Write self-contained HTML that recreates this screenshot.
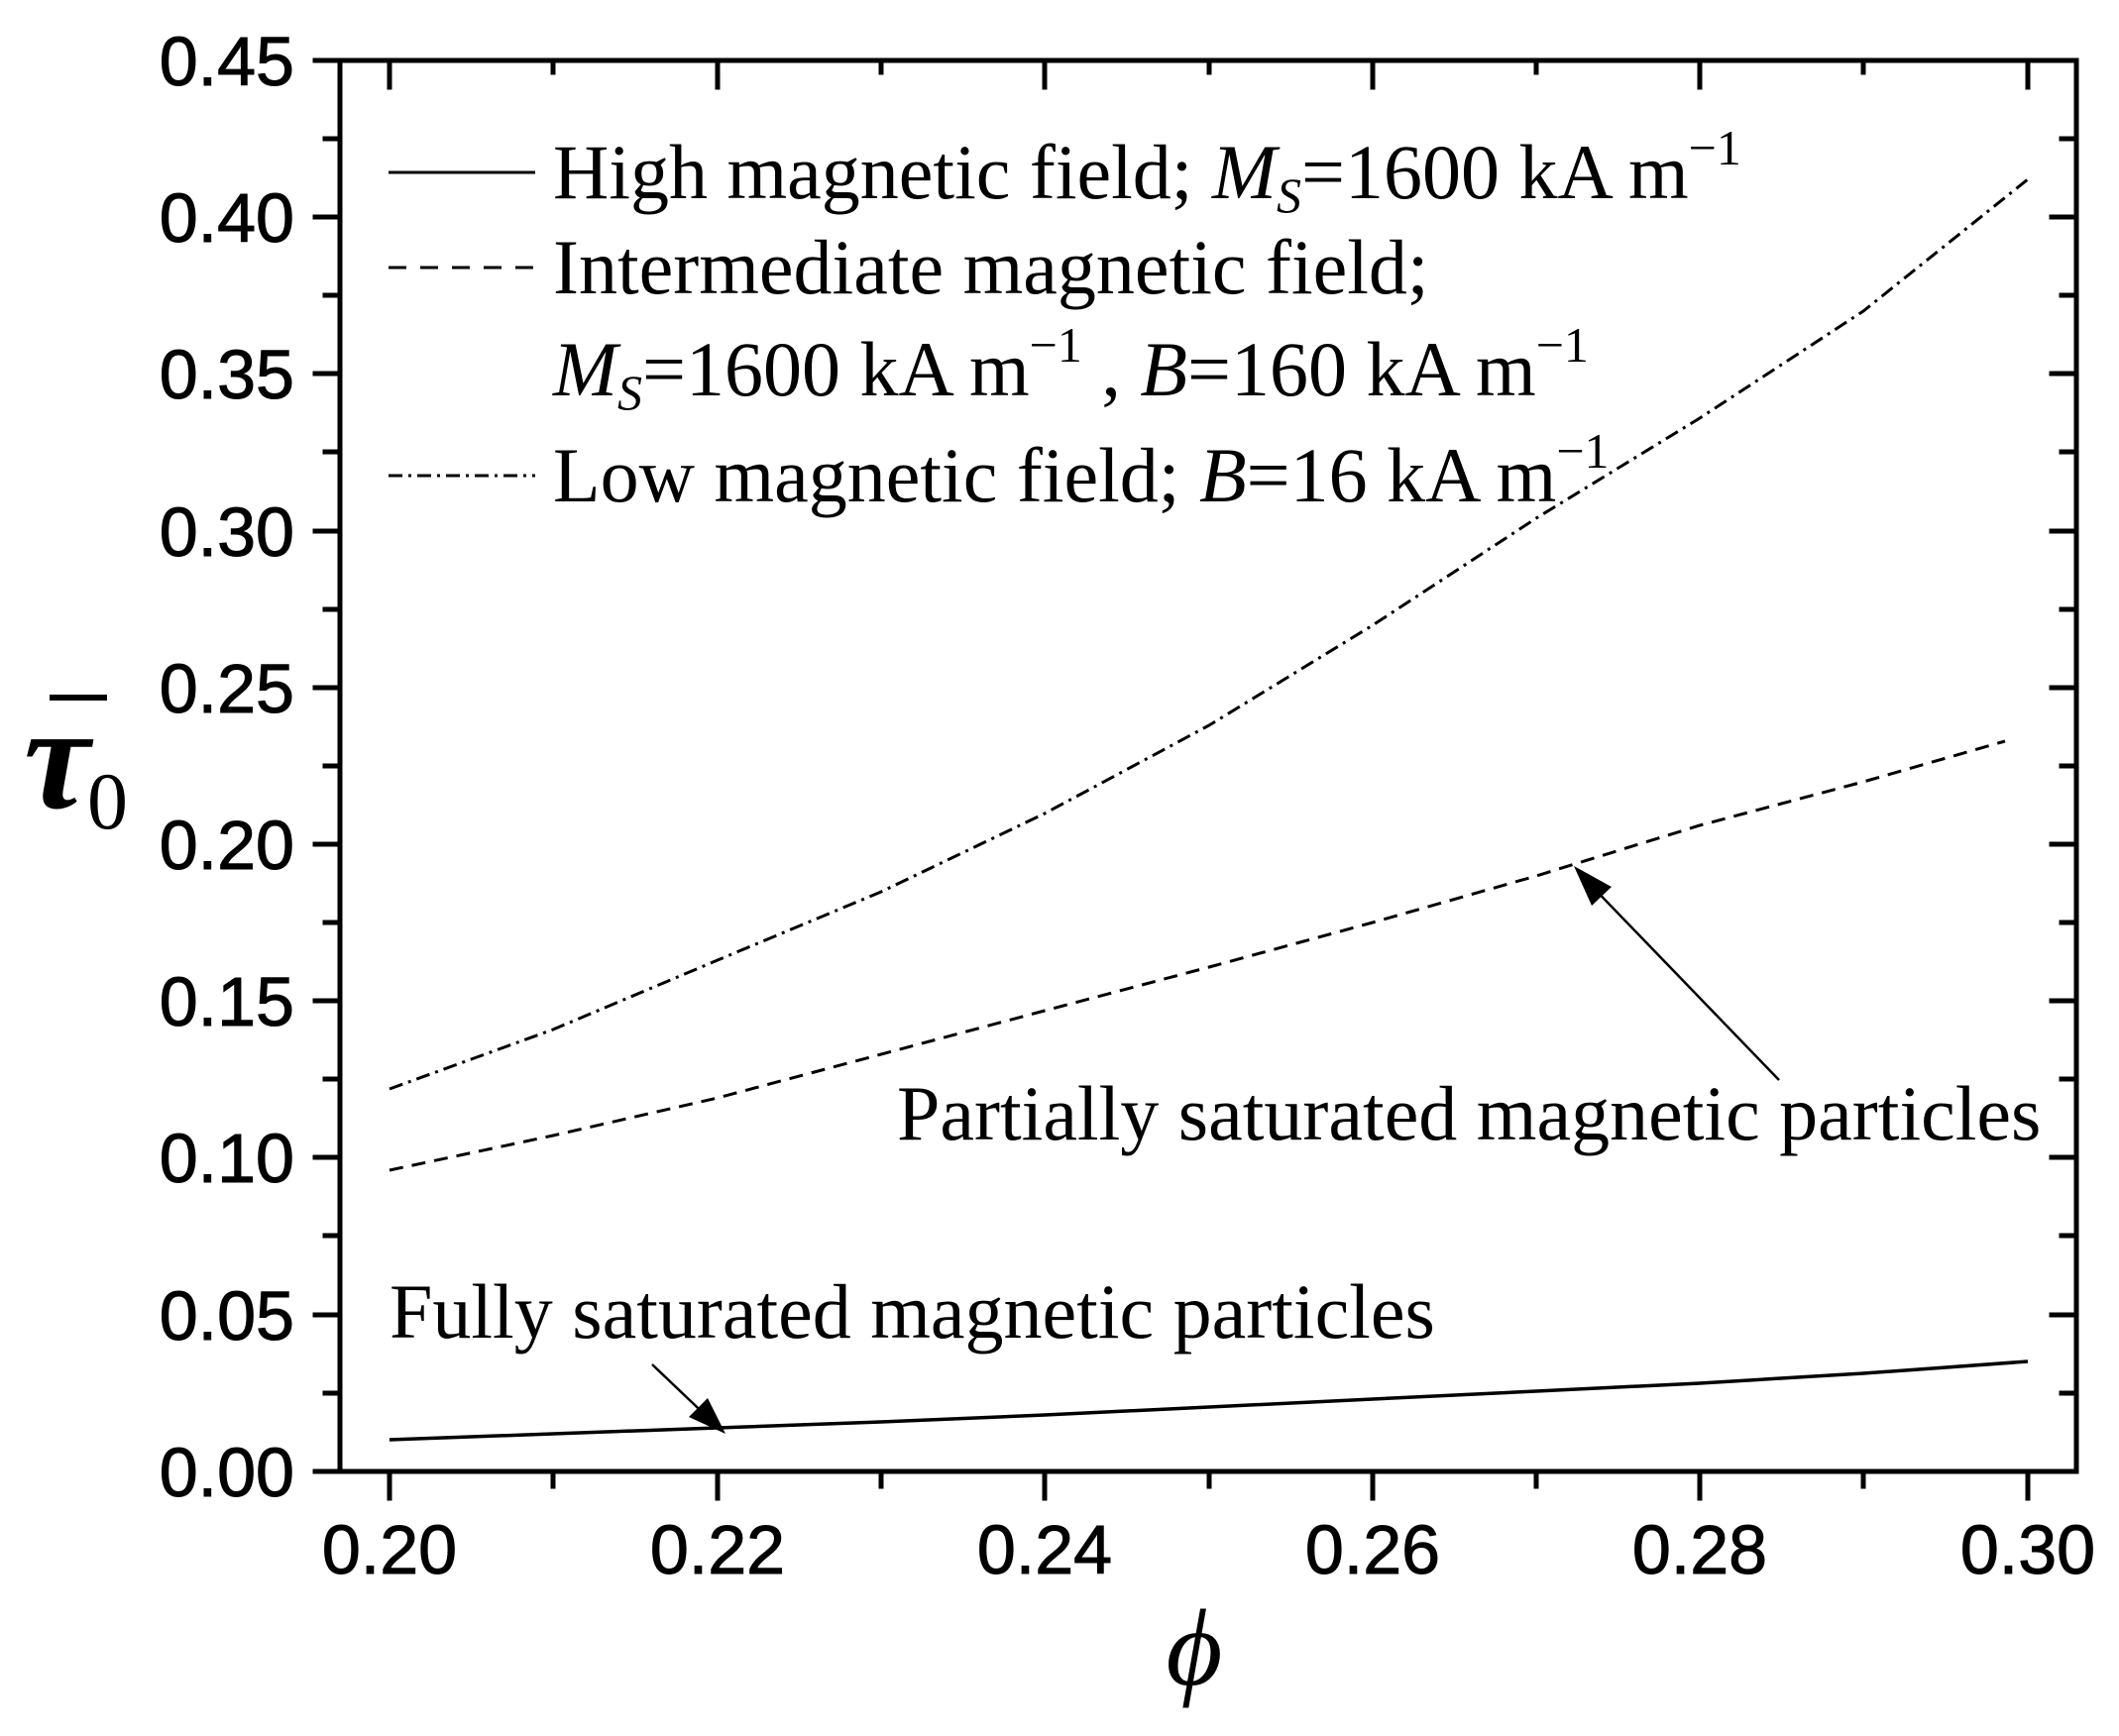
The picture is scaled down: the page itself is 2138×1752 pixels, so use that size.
<!DOCTYPE html>
<html><head><meta charset="utf-8"><style>html,body{margin:0;padding:0;background:#fff}svg{display:block}</style></head>
<body>
<svg width="2138" height="1752" viewBox="0 0 2138 1752" xmlns="http://www.w3.org/2000/svg">
<rect width="2138" height="1752" fill="#fff"/>
<g stroke="#000" stroke-width="5" fill="none" stroke-linecap="square">
<rect x="343" y="61" width="1752" height="1424"/>
<path d="M318 61H343M318 219H343M318 377H343M318 536H343M318 694H343M318 852H343M318 1010H343M318 1168H343M318 1327H343M318 1485H343"/>
<path d="M328 140H343M328 298H343M328 456H343M328 615H343M328 773H343M328 931H343M328 1089H343M328 1247H343M328 1406H343"/>
<path d="M2070 219H2095M2070 377H2095M2070 536H2095M2070 694H2095M2070 852H2095M2070 1010H2095M2070 1168H2095M2070 1327H2095"/>
<path d="M2080 140H2095M2080 298H2095M2080 456H2095M2080 615H2095M2080 773H2095M2080 931H2095M2080 1089H2095M2080 1247H2095M2080 1406H2095"/>
<path d="M393 1485V1512M724 1485V1512M1054 1485V1512M1385 1485V1512M1715 1485V1512M2046 1485V1512"/>
<path d="M558 1485V1500M889 1485V1500M1220 1485V1500M1550 1485V1500M1880 1485V1500"/>
<path d="M393 61V88M724 61V88M1054 61V88M1385 61V88M1715 61V88M2046 61V88"/>
<path d="M558 61V73M889 61V73M1220 61V73M1550 61V73M1880 61V73"/>
</g>
<g font-family="Liberation Sans, sans-serif" font-size="70" fill="#000" stroke="#000" stroke-width="1" text-anchor="end">
<text x="297" y="86">0.45</text><text x="297" y="244">0.40</text><text x="297" y="402">0.35</text>
<text x="297" y="561">0.30</text><text x="297" y="719">0.25</text><text x="297" y="877">0.20</text>
<text x="297" y="1035">0.15</text><text x="297" y="1193">0.10</text><text x="297" y="1352">0.05</text>
<text x="297" y="1510">0.00</text>
</g>
<g font-family="Liberation Sans, sans-serif" font-size="70" fill="#000" stroke="#000" stroke-width="1" text-anchor="middle">
<text x="393" y="1588">0.20</text><text x="724" y="1588">0.22</text><text x="1054" y="1588">0.24</text>
<text x="1385" y="1588">0.26</text><text x="1715" y="1588">0.28</text><text x="2046" y="1588">0.30</text>
</g>
<text x="24" y="815" font-family="Liberation Serif, serif" font-size="150" font-style="italic" font-weight="bold">τ</text>
<line x1="50" y1="704" x2="108" y2="704" stroke="#000" stroke-width="6"/>
<text x="88" y="836" font-family="Liberation Serif, serif" font-size="82">0</text>
<text x="1205" y="1700" font-family="Liberation Serif, serif" font-size="110" font-style="italic" text-anchor="middle">ϕ</text>
<g fill="none" stroke="#000" stroke-width="3">
<polyline stroke-dasharray="14,6,3,6" points="393,1099 558,1039 724,969 889,900 1054,821 1220,732 1385,631 1550,523 1715,422 1880,314 2046,181"/>
<polyline stroke-dasharray="14,9" points="393,1181 558,1146 724,1108 889,1064 1054,1020 1220,976 1385,931 1550,884 1715,833 1880,789 2023,748"/>
<polyline stroke-width="3.5" points="393,1453 558,1447 724,1441 889,1435 1054,1428 1220,1420 1385,1412 1550,1404 1715,1396 1880,1386 2046,1374"/>
<line x1="392" y1="174" x2="540" y2="174"/>
<line x1="392" y1="270" x2="540" y2="270" stroke-dasharray="18,14"/>
<line x1="392" y1="480" x2="540" y2="480" stroke-dasharray="14,6,3,6"/>
<line x1="1795" y1="1090" x2="1600" y2="888" stroke-width="2.5"/>
<line x1="658" y1="1377" x2="722" y2="1438" stroke-width="2.5"/>
</g>
<polygon points="1588,874 1626,895 1606,914" fill="#000"/>
<polygon points="732,1447 695,1430 714,1411" fill="#000"/>
<g font-family="Liberation Serif, serif" font-size="78" fill="#000">
<text x="558" y="200">High magnetic field; <tspan font-style="italic">M<tspan font-size="50" dy="14">S</tspan></tspan><tspan dy="-14">=1600 kA m</tspan><tspan font-size="50" dy="-34">−1</tspan></text>
<text x="558" y="296">Intermediate magnetic field;</text>
<text x="558" y="399"><tspan font-style="italic">M<tspan font-size="50" dy="14">S</tspan></tspan><tspan dy="-14">=1600 kA m</tspan><tspan font-size="50" dy="-34">−1</tspan><tspan dy="34"> , </tspan><tspan font-style="italic">B</tspan>=160 kA m<tspan font-size="50" dy="-34">−1</tspan></text>
<text x="558" y="506">Low magnetic field; <tspan font-style="italic">B</tspan>=16 kA m<tspan font-size="50" dy="-34">−1</tspan></text>
<text x="905" y="1150">Partially saturated magnetic particles</text>
<text x="393" y="1350">Fully saturated magnetic particles</text>
</g>
</svg>
</body></html>
